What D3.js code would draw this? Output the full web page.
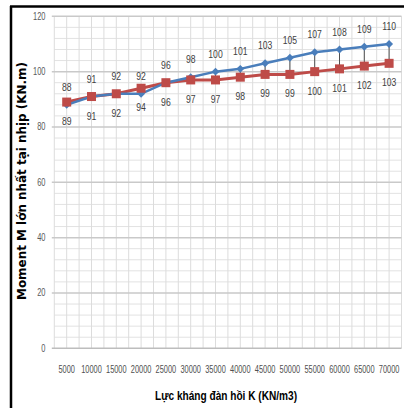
<!DOCTYPE html>
<html><head><meta charset="utf-8">
<script src="https://cdn.jsdelivr.net/npm/d3@7/dist/d3.min.js"></script>
<style>
html,body{margin:0;padding:0;background:#fff;}
svg{display:block;}
</style></head>
<body>
<svg id="chart" width="404" height="408"></svg>
<script>
const categories = ["5000","10000","15000","20000","25000","30000","35000","40000","45000","50000","55000","60000","65000","70000"];
const seriesBlue = [88,91,92,92,96,98,100,101,103,105,107,108,109,110];
const seriesRed  = [89,91,92,94,96,97,97,98,99,99,100,101,102,103];
const yTicks = [0,20,40,60,80,100,120];
const yTitle = "Moment M lớn nhất tại nhịp (KN.m)";
const xTitle = "Lực kháng đàn hồi K (KN/m3)";

const svg = d3.select("#chart");
const L = 54.3, R = 401.5, T = 16.3, B = 348.3;
const font = "'Liberation Sans',Arial,sans-serif";

const x = d3.scaleBand().domain(categories).range([L, R]).paddingInner(0).paddingOuter(0);
const y = d3.scaleLinear().domain([0,120]).range([B, T]);
const cx = d => x(d) + x.bandwidth()/2;

// frame (left & top border)
svg.append("line").attr("x1",11).attr("x2",11).attr("y1",6).attr("y2",408).attr("stroke","#000").attr("stroke-width",2.5);
svg.append("line").attr("x1",10).attr("x2",404).attr("y1",6.5).attr("y2",6.5).attr("stroke","#000").attr("stroke-width",2.5);

const g = svg.append("g");
const minor = d3.range(0,121,4).filter(v => v % 20 !== 0);
g.selectAll(".hmin").data(minor).join("line")
  .attr("x1",L).attr("x2",R).attr("y1",d=>y(d)).attr("y2",d=>y(d))
  .attr("stroke","#e2e2e2").attr("stroke-width",1);
const vpos = [];
categories.forEach(c => { vpos.push(x(c)); vpos.push(cx(c)); });
vpos.push(R);
g.selectAll(".v").data(vpos).join("line")
  .attr("x1",d=>d).attr("x2",d=>d).attr("y1",T).attr("y2",B)
  .attr("stroke","#dcdcdc").attr("stroke-width",1);
g.selectAll(".hmaj").data(yTicks.filter(v=>v>0)).join("line")
  .attr("x1",L-2.5).attr("x2",R).attr("y1",d=>y(d)).attr("y2",d=>y(d))
  .attr("stroke","#c9c9c9").attr("stroke-width",1.5);
g.append("line").attr("x1",L-2.5).attr("x2",R).attr("y1",B).attr("y2",B).attr("stroke","#bdbdbd").attr("stroke-width",1.5);

function narrow(sel, fx, fy, s){
  sel.attr("transform",(d,i)=>`translate(${fx(d,i)},${fy(d,i)}) scale(${s},1)`);
}

// y tick labels
svg.selectAll(".yt").data(yTicks).join("text")
  .call(narrow, ()=>45.5, d=>y(d)+3.5, 0.75)
  .attr("text-anchor","end").attr("font-family",font).attr("font-size",10).attr("fill","#595959")
  .text(d=>d);

// x tick labels
svg.selectAll(".xt").data(categories).join("text")
  .call(narrow, d=>cx(d), ()=>373, 0.7)
  .attr("text-anchor","middle").attr("font-family",font).attr("font-size",10.6).attr("fill","#505050")
  .text(d=>d);

// high-low lines
svg.selectAll(".hl").data(categories).join("line")
  .attr("x1",d=>cx(d)).attr("x2",d=>cx(d))
  .attr("y1",(d,i)=>y(seriesBlue[i])).attr("y2",(d,i)=>y(seriesRed[i]))
  .attr("stroke","#505050").attr("stroke-width",1);

const line = d3.line().x((d,i)=>cx(categories[i])).y(d=>y(d));
const blue = "#4a7ebb", red = "#be4b48";
svg.append("path").attr("d",line(seriesRed)).attr("fill","none").attr("stroke",red).attr("stroke-width",3);
svg.append("path").attr("d",line(seriesBlue)).attr("fill","none").attr("stroke",blue).attr("stroke-width",2.5);

svg.selectAll(".mb").data(seriesBlue).join("path")
  .attr("d",d3.symbol(d3.symbolDiamond2,40)())
  .attr("transform",(d,i)=>`translate(${cx(categories[i])},${y(d)})`)
  .attr("fill",blue);
svg.selectAll(".mr").data(seriesRed).join("rect")
  .attr("x",(d,i)=>cx(categories[i])-4.5).attr("y",d=>y(d)-4.5)
  .attr("width",9).attr("height",9).attr("fill",red);

// data labels
svg.selectAll(".lb").data(seriesBlue).join("text")
  .call(narrow, (d,i)=>cx(categories[i]), d=>y(d)-14, 0.75)
  .attr("text-anchor","middle").attr("font-family",font).attr("font-size",11.5).attr("fill","#404040")
  .text(d=>d);
svg.selectAll(".lr").data(seriesRed).join("text")
  .call(narrow, (d,i)=>cx(categories[i]), d=>y(d)+23, 0.75)
  .attr("text-anchor","middle").attr("font-family",font).attr("font-size",11.5).attr("fill","#404040")
  .text(d=>d);

// titles
svg.append("text").attr("transform","translate(26,181) rotate(-90)")
  .attr("text-anchor","middle").attr("font-family","'DejaVu Sans',sans-serif").attr("font-weight","bold")
  .attr("font-size",12).attr("fill","#000")
  .attr("textLength",238).attr("lengthAdjust","spacingAndGlyphs").text(yTitle);
svg.append("text").attr("x",226).attr("y",400)
  .attr("text-anchor","middle").attr("font-family",font).attr("font-weight","bold")
  .attr("font-size",13).attr("fill","#000")
  .attr("textLength",142).attr("lengthAdjust","spacingAndGlyphs").text(xTitle);
</script>
</body></html>
